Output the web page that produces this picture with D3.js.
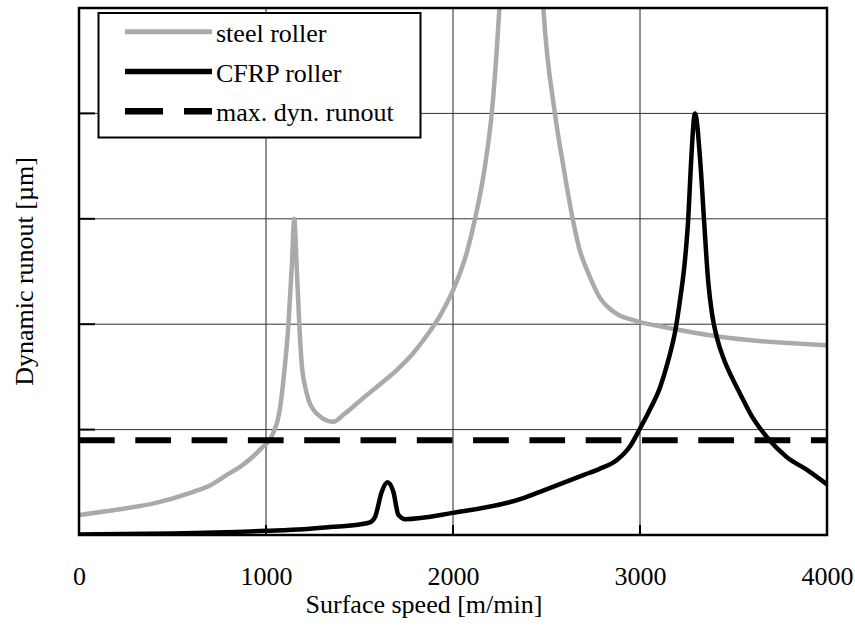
<!DOCTYPE html>
<html>
<head>
<meta charset="utf-8">
<script src="https://cdn.jsdelivr.net/npm/d3@7"></script>
<style>
  html, body { margin: 0; padding: 0; background: #fff; }
  svg { display: block; }
  svg text { font-family: "Liberation Serif", "Times New Roman", serif !important; fill: #000; }
</style>
</head>
<body>
<svg id="chart" width="855" height="626"></svg>
<script>
// Surface speed [m/min] and dynamic runout for each roller
const steelSpeed = [0, 200, 400, 611, 700, 790, 880, 968, 1039, 1070, 1095, 1120, 1138, 1151, 1164, 1178, 1192, 1209, 1230, 1253, 1300, 1360, 1420, 1520, 1610, 1699, 1780, 1859, 1930, 2000, 2077, 2118, 2171, 2207, 2248, 2300, 2370, 2430, 2483, 2545, 2590, 2640, 2675, 2720, 2786, 2850, 2893, 2950, 3000, 3107, 3428, 4000];
const steelRunout = [0.19, 0.24, 0.30, 0.41, 0.47, 0.57, 0.67, 0.81, 0.97, 1.15, 1.5, 2.0, 2.55, 3.0, 2.55, 2.0, 1.6, 1.41, 1.27, 1.19, 1.11, 1.075, 1.15, 1.30, 1.43, 1.565, 1.71, 1.89, 2.08, 2.32, 2.70, 3.0, 3.5, 4.0, 5.0, 7.0, 9.0, 7.0, 5.0, 4.0, 3.5, 3.0, 2.72, 2.50, 2.25, 2.13, 2.08, 2.045, 2.02, 1.98, 1.88, 1.80];

const cfrpSpeed = [0, 500, 1000, 1200, 1342, 1500, 1556, 1583, 1619, 1649, 1681, 1708, 1743, 2000, 2376, 2465, 2700, 2786, 2875, 2946, 3000, 3053, 3107, 3150, 3190, 3214, 3240, 3258, 3272, 3294, 3324, 3342, 3365, 3385, 3410, 3450, 3490, 3535, 3600, 3678, 3784, 3891, 4000];
const cfrpRunout = [0.005, 0.015, 0.04, 0.055, 0.075, 0.10, 0.12, 0.17, 0.41, 0.50, 0.41, 0.19, 0.15, 0.21, 0.35, 0.41, 0.57, 0.63, 0.71, 0.84, 1.01, 1.19, 1.40, 1.65, 1.95, 2.23, 2.6, 3.0, 3.5, 4.0, 3.5, 3.0, 2.4, 2.1, 1.88, 1.66, 1.5, 1.34, 1.12, 0.93, 0.74, 0.62, 0.48];

const maxRunout = 0.9;

const xTicks = [0, 1000, 2000, 3000, 4000];
const yGrid = [1, 2, 3, 4];

const legendLabels = ["steel roller", "CFRP roller", "max. dyn. runout"];
const xTitle = "Surface speed [m/min]";
const yTitle = "Dynamic runout [µm]";

const svg = d3.select("#chart");
const pLeft = 79, pRight = 827, pTop = 8, pBottom = 535;

const x = d3.scaleLinear().domain([0, 4000]).range([pLeft, pRight]);
const y = d3.scaleLinear().domain([0, 5]).range([pBottom, pTop]);

svg.append("defs").append("clipPath").attr("id", "plotClip")
  .append("rect").attr("x", pLeft).attr("y", pTop)
  .attr("width", pRight - pLeft).attr("height", pBottom - pTop);

// grid
const grid = svg.append("g");
grid.selectAll("line.vx").data(xTicks.slice(1, -1)).join("line")
  .attr("x1", d => x(d)).attr("x2", d => x(d))
  .attr("y1", pTop).attr("y2", pBottom)
  .attr("stroke", "#222").attr("stroke-width", 1);
grid.selectAll("line.hy").data(yGrid).join("line")
  .attr("x1", pLeft).attr("x2", pRight)
  .attr("y1", d => y(d)).attr("y2", d => y(d))
  .attr("stroke", "#333").attr("stroke-width", 1);

// inward tick marks
svg.append("g").selectAll("line").data(yGrid).join("line")
  .attr("x1", pLeft).attr("x2", pLeft + 16)
  .attr("y1", d => y(d)).attr("y2", d => y(d))
  .attr("stroke", "#000").attr("stroke-width", 2);
svg.append("g").selectAll("line").data(xTicks.slice(1, -1)).join("line")
  .attr("x1", d => x(d)).attr("x2", d => x(d))
  .attr("y1", pBottom).attr("y2", pBottom - 10)
  .attr("stroke", "#000").attr("stroke-width", 2);

// x axis labels
const xAxis = d3.axisBottom(x).tickValues(xTicks).tickSize(0).tickPadding(31.5)
  .tickFormat(d3.format("d"));
const gx = svg.append("g").attr("transform", `translate(0,${pBottom})`).call(xAxis);
gx.attr("font-family", null).attr("font-size", 26);
gx.select(".domain").remove();
gx.selectAll("text").attr("font-size", 26);

// curves
const plot = svg.append("g").attr("clip-path", "url(#plotClip)");
const line = d3.line().x(d => x(d[0])).y(d => y(d[1])).curve(d3.curveMonotoneX);

const steelData = steelSpeed.map((s, i) => [s, steelRunout[i]]);
const cfrpData = cfrpSpeed.map((s, i) => [s, cfrpRunout[i]]);

plot.append("path").datum(steelData).attr("d", line)
  .attr("fill", "none").attr("stroke", "#aaaaaa").attr("stroke-width", 4.5)
  .attr("stroke-linejoin", "round");

plot.append("line")
  .attr("x1", x(0)).attr("x2", x(4000))
  .attr("y1", y(maxRunout)).attr("y2", y(maxRunout))
  .attr("stroke", "#000").attr("stroke-width", 6)
  .attr("stroke-dasharray", "35.7,20.6");

plot.append("path").datum(cfrpData).attr("d", line)
  .attr("fill", "none").attr("stroke", "#000").attr("stroke-width", 4.5)
  .attr("stroke-linejoin", "round");

// frame
svg.append("rect").attr("x", pLeft).attr("y", pTop)
  .attr("width", pRight - pLeft).attr("height", pBottom - pTop)
  .attr("fill", "none").attr("stroke", "#000").attr("stroke-width", 2.5);

// axis titles
svg.append("text").attr("x", 424).attr("y", 613)
  .attr("text-anchor", "middle").attr("font-size", 26).text(xTitle);
svg.append("text")
  .attr("transform", `translate(33,${(pTop + pBottom) / 2}) rotate(-90)`)
  .attr("text-anchor", "middle").attr("font-size", 26).text(yTitle);

// legend
const legend = svg.append("g");
legend.append("rect").attr("x", 98.5).attr("y", 13).attr("width", 322).attr("height", 124.5)
  .attr("fill", "#fff").attr("stroke", "#000").attr("stroke-width", 2);
const legendStyles = [
  { color: "#aaaaaa", width: 5, dash: null },
  { color: "#000", width: 5.5, dash: null },
  { color: "#000", width: 6.5, dash: "38,21" }
];
legendLabels.forEach((label, i) => {
  const ly = 31.7 + i * 39.8;
  const st = legendStyles[i];
  legend.append("line").attr("x1", 125).attr("x2", 212).attr("y1", ly).attr("y2", ly)
    .attr("stroke", st.color).attr("stroke-width", st.width)
    .attr("stroke-dasharray", st.dash);
  legend.append("text").attr("x", 216).attr("y", ly + 10)
    .attr("font-size", 26).text(label);
});
</script>
</body>
</html>
